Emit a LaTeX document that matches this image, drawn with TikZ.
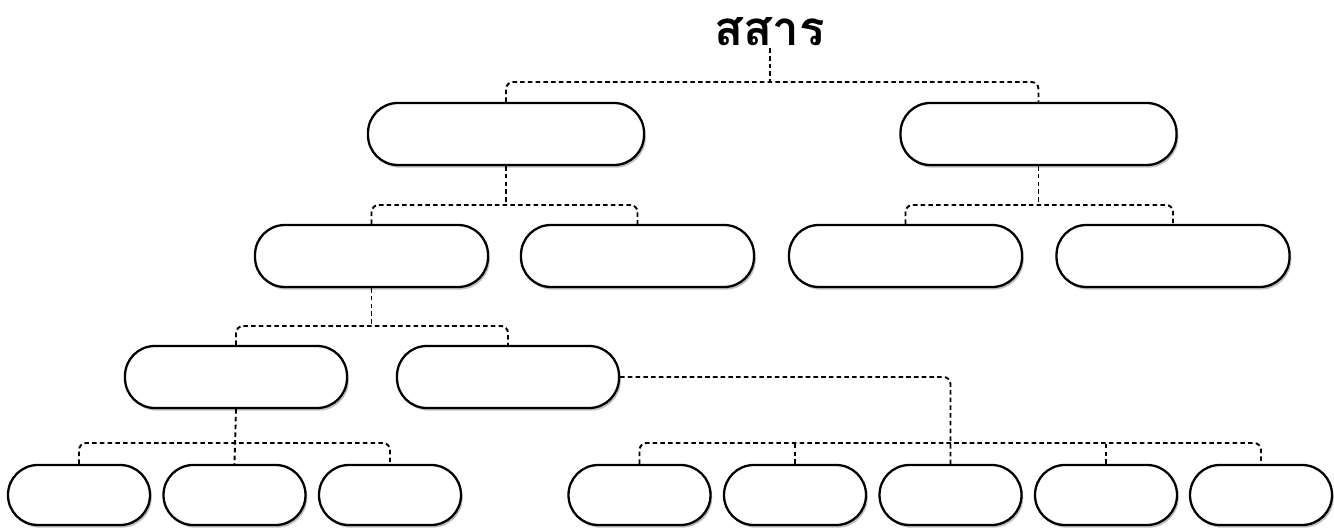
\documentclass[tikz,border=0pt]{standalone}
\usepackage{fontspec}
\newfontfamily\thaifont[Script=Thai]{Loma}
\usetikzlibrary{positioning, calc, shadows}

\begin{document}
\begin{tikzpicture}[
  pill/.style={draw, fill=white, line width=1.3pt, rounded corners=17pt,
    minimum width=#1, minimum height=1.24cm, inner sep=0pt,
    drop shadow={shadow xshift=1pt, shadow yshift=-1.5pt, fill=black!50, opacity=0.5}},
  pill/.default={4.66cm},
  small/.style={pill=2.84cm, minimum height=1.2cm},
  link/.style={line width=1.1pt, dash pattern=on 2.6pt off 1.8pt, rounded corners=4pt}
]
  \useasboundingbox (0,0) rectangle (26.68,10.56);

  % Title
  \node[font=\thaifont\bfseries\fontsize{27}{30}\selectfont, inner sep=1pt] (top) at (15.4,9.92) {สสาร};

  % Level 1
  \node[pill=5.52cm] (sa) at (10.12,7.88) {};
  \node[pill=5.52cm] (sb) at (20.77,7.88) {};

  % Level 2
  \node[pill] (ma) at (7.43,5.44) {};
  \node[pill] (mb) at (12.75,5.44) {};
  \node[pill] (mc) at (18.11,5.44) {};
  \node[pill] (md) at (23.46,5.44) {};

  % Level 3
  \node[pill=4.44cm] (ka) at (4.72,3.02) {};
  \node[pill=4.44cm] (kb) at (10.16,3.02) {};

  % Level 4, left group
  \node[small] (la) at (1.58,0.66) {};
  \node[small] (lb) at (4.69,0.66) {};
  \node[small] (lc) at (7.80,0.66) {};

  % Level 4, right group
  \node[small] (ra) at (12.79,0.66) {};
  \node[small] (rb) at (15.90,0.66) {};
  \node[small] (rc) at (19.01,0.66) {};
  \node[small] (rd) at (22.12,0.66) {};
  \node[small] (re) at (25.22,0.66) {};

  % Bus levels
  \coordinate (b0) at (0,8.92);
  \coordinate (b1) at (0,6.46);
  \coordinate (b2) at (0,4.04);
  \coordinate (b3) at (0,1.70);

  % Title -> level 1
  \draw[link] (sa.north) -- (sa.north |- b0) -- (sb.north |- b0) -- (sb.north);
  \draw[link] (top.south) -- (top.south |- b0);

  % Level 1 -> level 2
  \draw[link] (ma.north) -- (ma.north |- b1) -- (mb.north |- b1) -- (mb.north);
  \draw[link] (sa.south) -- (sa.south |- b1);
  \draw[link] (mc.north) -- (mc.north |- b1) -- (md.north |- b1) -- (md.north);
  \draw[link] (sb.south) -- (sb.south |- b1);

  % Level 2 -> level 3
  \draw[link] (ka.north) -- (ka.north |- b2) -- (kb.north |- b2) -- (kb.north);
  \draw[link] (ma.south) -- (ma.south |- b2);

  % Level 3 -> level 4
  \draw[link] (la.north) -- (la.north |- b3) -- (lc.north |- b3) -- (lc.north);
  \draw[link] (ka.south) -- (lb.north);
  \draw[link] (ra.north) -- (ra.north |- b3) -- (re.north |- b3) -- (re.north);
  \draw[link] (rb.north) -- (rb.north |- b3);
  \draw[link] (rd.north) -- (rd.north |- b3);
  \draw[link] (kb.east) -| (rc.north);
\end{tikzpicture}
\end{document}
